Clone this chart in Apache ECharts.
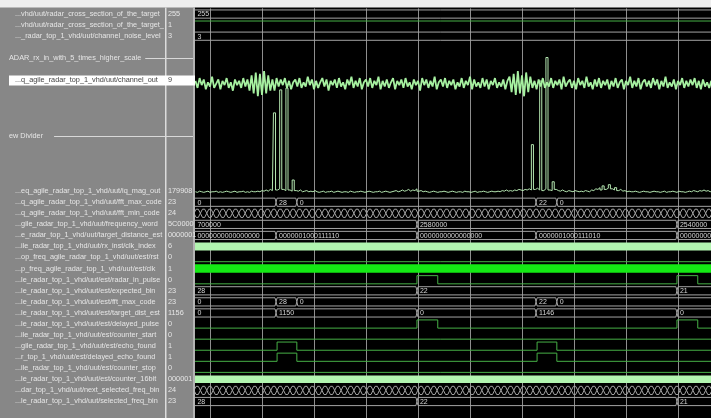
<!DOCTYPE html>
<html><head><meta charset="utf-8">
<script src="https://cdn.jsdelivr.net/npm/echarts@6/dist/echarts.min.js"></script>
<style>html,body{margin:0;padding:0;background:#000;}#c{width:711px;height:418px;}</style>
</head><body><div id="c"></div>
<script>
// ================= DATA =================
const signalNames = [
  "...vhd/uut/radar_cross_section_of_the_target",
  "...vhd/uut/radar_cross_section_of_the_target_",
  "..._radar_top_1_vhd/uut/channel_noise_level",
  "",
  "ADAR_rx_in_with_5_times_higher_scale",
  "",
  "...q_agile_radar_top_1_vhd/uut/channel_out",
  "", "", "", "",
  "ew Divider",
  "", "", "", "",
  "...eq_agile_radar_top_1_vhd/uut/iq_mag_out",
  "...q_agile_radar_top_1_vhd/uut/fft_max_code",
  "...q_agile_radar_top_1_vhd/uut/fft_min_code",
  "...gile_radar_top_1_vhd/uut/frequency_word",
  "...e_radar_top_1_vhd/uut/target_distance_est",
  "...ile_radar_top_1_vhd/uut/rx_inst/clk_index",
  "...op_freq_agile_radar_top_1_vhd/uut/est/rst",
  "...p_freq_agile_radar_top_1_vhd/uut/est/clk",
  "...le_radar_top_1_vhd/uut/est/radar_in_pulse",
  "...le_radar_top_1_vhd/uut/est/expected_bin",
  "...le_radar_top_1_vhd/uut/est/fft_max_code",
  "...le_radar_top_1_vhd/uut/est/target_dist_est",
  "...le_radar_top_1_vhd/uut/est/delayed_pulse",
  "...ile_radar_top_1_vhd/uut/est/counter_start",
  "...gile_radar_top_1_vhd/uut/est/echo_found",
  "...r_top_1_vhd/uut/est/delayed_echo_found",
  "...ile_radar_top_1_vhd/uut/est/counter_stop",
  "...le_radar_top_1_vhd/uut/est/counter_16bit",
  "...dar_top_1_vhd/uut/next_selected_freq_bin",
  "...le_radar_top_1_vhd/uut/selected_freq_bin",
  ""
];
const signalValues = [
  "255","1","3","","","","9","","","","","","","","","",
  "179908","23","24","5C0000","0000001","6","0","1","0","23","23","1156",
  "0","0","1","1","0","000001","24","23",""
];
const dividerRows = [4, 11];
const selectedRow = 6;

// time of the left edge of the waveform window and sampling step of the analog traces
const WIN_START = 0.72;
const SAMPLE_DT = 0.04;
const T_BEGIN = 0.2;
const T_END = 10.7;

// channel_out samples (signed)
const channelOut = [
  2,-3,4,-1,3,-4,1,-2,5,-3,
  0,3,-4,2,-1,4,-3,1,-5,3,
  -1,2,-3,4,-2,3,-5,6,-7,8,
  -9,7,-8,9,-7,6,-5,3,-5,4,
  -2,3,-1,4,-3,2,-4,1,3,-2,
  4,-3,1,-2,5,-1,3,-4,2,-3,
  1,4,-2,3,-5,2,-1,3,-3,4,
  -2,1,-4,3,-1,5,-3,2,-2,4,
  -4,1,3,-2,4,-3,2,-1,5,-4,
  2,-2,3,-3,1,4,-4,2,-1,3,
  -3,4,-2,1,-4,3,-1,2,-5,4,
  -1,3,-3,2,-2,5,-4,1,3,-2,
  4,-3,2,-1,3,-4,1,-2,4,-3,
  2,-1,5,-4,3,-2,1,-3,4,-2,
  3,-4,2,-1,4,-3,1,-2,3,-4,
  2,5,-6,7,-8,9,-7,6,-9,8,
  -6,5,-3,2,-4,3,-2,4,-3,1,
  -2,4,-3,2,-1,3,-4,5,-2,1,
  3,-3,2,-4,4,-1,2,-3,5,-2,
  1,-4,3,-2,4,-3,2,-1,3,-4,
  2,-2,4,-3,1,3,-4,2,-1,5,
  -3,2,-2,4,-4,1,3,-2,2,-3,
  4,-1,3,-4,2,-2,5,-3,1,-2,
  3,-4,2,-1,4,-3,2,-2,3,-1,
  4,-3,2,-4,3,-2,1,-3,2
];
// iq_mag_out samples (thousands)
const iqMagOut = [
  2,1,3,2,1,2,3,1,2,2,
  3,1,2,1,2,3,2,1,2,3,
  1,2,2,3,1,2,1,3,2,2,
  3,2,4,3,5,3,6,4,136,5,
  7,175,6,4,178,5,3,22,4,3,
  5,2,3,4,2,3,2,4,2,1,
  2,3,1,2,2,3,1,2,3,2,
  1,2,2,1,3,2,1,2,2,3,
  2,1,2,3,2,1,2,2,3,1,
  2,3,2,1,2,3,4,2,3,5,
  3,4,6,3,5,4,7,3,4,2,
  3,2,1,2,3,2,1,2,2,3,
  2,1,2,3,2,1,2,2,1,3,
  2,2,1,2,3,1,2,2,3,2,
  1,2,3,2,2,3,2,4,3,5,
  3,4,3,5,4,6,5,4,6,5,
  7,5,82,6,8,5,190,4,7,230,
  5,4,19,6,4,3,5,3,2,4,
  3,2,4,3,2,3,2,4,3,2,
  5,4,7,6,9,5,12,6,8,14,
  7,5,9,4,6,3,4,2,3,2,
  2,3,2,1,2,3,2,2,1,2,
  3,2,2,1,2,3,1,2,2,3,
  2,1,3,2,2,1,2,3,2,4,
  3,2,4,3,5,3,4,2,3
];

// bus signals: [change time, value]
const rcsTarget = [[T_BEGIN,"255"]];
const channelNoiseLevel = [[T_BEGIN,"3"]];
const fftMaxCode = [[T_BEGIN,"0"],[2.27,"28"],[2.67,"0"],[7.27,"22"],[7.67,"0"]];
const frequencyWord = [[T_BEGIN,"700000"],[4.98,"2580000"],[9.98,"2540000"]];
const targetDistanceEst = [[T_BEGIN,"0000000000000000"],[2.27,"0000001000111110"],[4.98,"0000000000000000"],[7.27,"0000001000111010"],[9.98,"0000000000000000"]];
const expectedBin = [[T_BEGIN,"28"],[4.98,"22"],[9.98,"21"]];
const estFftMaxCode = [[T_BEGIN,"0"],[2.27,"28"],[2.67,"0"],[7.27,"22"],[7.67,"0"]];
const targetDistEst = [[T_BEGIN,"0"],[2.27,"1150"],[4.98,"0"],[7.27,"1146"],[9.98,"0"]];
const selectedFreqBin = [[T_BEGIN,"28"],[4.98,"22"],[9.98,"21"]];
// fast-changing buses (one value per FFT bin period)
const FAST_BUS_PERIOD = 0.123;
const fastBusRows = [18, 34];

// single-bit signals: [change time, level]
const rcsTargetBit = [[T_BEGIN,1]];
const estRst = [[T_BEGIN,0]];
const radarInPulse = [[T_BEGIN,0],[4.98,1],[5.38,0],[9.98,1],[10.38,0]];
const delayedPulse = [[T_BEGIN,0],[4.98,1],[5.38,0],[9.98,1],[10.38,0]];
const counterStart = [[T_BEGIN,0]];
const echoFound = [[T_BEGIN,0],[2.29,1],[2.67,0],[7.29,1],[7.67,0]];
const delayedEchoFound = [[T_BEGIN,0],[2.29,1],[2.67,0],[7.29,1],[7.67,0]];
const counterStop = [[T_BEGIN,0]];

// ================= LAYOUT / STYLE =================
const W = 711, H = 418;
const GRID_LEFT = 158, GRID_TOP = 8.4;
const NROWS = signalNames.length;
const BAND = (H - GRID_TOP) / NROWS;
const X_UNIT_PX = 52;
const X_MAX = (W - GRID_LEFT) / X_UNIT_PX;
const HI = 0.36, LO = 0.38;
const CH_CENTER = 6.3, CH_UNITS_PER_SLOT = 7.9;
const IQ_BASE = 16.17, IQ_UNITS_PER_SLOT = 18.8;
const PANEL = '#878787', TXT = '#e6e6e6';
const BUS_COLOR = '#a4a4a4', BIT_COLOR = '#46b046';
const FONT = '"Liberation Sans", Arial, sans-serif';
const NAME_FS = 7.3;

const busDefs = [
  {slot:0, segs:rcsTarget}, {slot:2, segs:channelNoiseLevel},
  {slot:17, segs:fftMaxCode}, {slot:19, segs:frequencyWord},
  {slot:20, segs:targetDistanceEst}, {slot:25, segs:expectedBin},
  {slot:26, segs:estFftMaxCode}, {slot:27, segs:targetDistEst},
  {slot:35, segs:selectedFreqBin}
];
const busData = [], busText = [];
busDefs.forEach(b => b.segs.forEach((sg, i) => {
  const end = i + 1 < b.segs.length ? b.segs[i+1][0] : T_END;
  busData.push([sg[0], end, b.slot, 0.02]); busText.push(sg[1]);
}));
fastBusRows.forEach(slot => {
  for (let k = 0; T_BEGIN + k*FAST_BUS_PERIOD < T_END; k++) {
    const a = T_BEGIN + k*FAST_BUS_PERIOD;
    busData.push([a, a + FAST_BUS_PERIOD, slot, 0.04]); busText.push('');
  }
});

function renderBus(params, api) {
  const a = api.value(0), b = api.value(1), s = api.value(2), d = api.value(3);
  const P = (t, y) => api.coord([t, y]);
  const pts = [P(a,s), P(a+d,s-HI), P(b-d,s-HI), P(b,s), P(b-d,s+LO), P(a+d,s+LO)];
  const children = [{type:'polygon', shape:{points:pts}, style:{fill:'none', stroke:BUS_COLOR, lineWidth:1}}];
  const txt = busText[params.dataIndex];
  if (txt) {
    const p = P(Math.max(a, WIN_START), s);
    children.push({type:'text', x:p[0] + (a >= WIN_START ? 3 : 2), y:p[1] + 0.5,
      style:{text:txt, fill:'#d6d6d6', font:'7px ' + FONT, verticalAlign:'middle', align:'left'}});
  }
  return {type:'group', children};
}

function lineBase(data, color, width, extra) {
  return Object.assign({type:'line', yAxisIndex:2, data, symbol:'none', silent:true, animation:false,
    lineStyle:{color, width}}, extra || {});
}
function bitSeries(slot, trans) {
  const pts = trans.map(([t, l]) => [t, slot + (l ? -HI : LO)]);
  pts.push([T_END, pts[pts.length-1][1]]);
  return lineBase(pts, BIT_COLOR, 1, {step:'end'});
}
function barSeries(slot, color, width) {
  return lineBase([[T_BEGIN, slot], [T_END, slot]], color, width, {lineStyle:{color, width, cap:'butt'}});
}

const series = [
  lineBase(iqMagOut.map((v, i) => [WIN_START + i*SAMPLE_DT, IQ_BASE - v/IQ_UNITS_PER_SLOT]), '#b4e6b0', 1, {step:'middle'}),
  lineBase(channelOut.map((v, i) => [WIN_START + i*SAMPLE_DT, CH_CENTER - v/CH_UNITS_PER_SLOT]), '#a6f0a0', 1.8),
  {type:'custom', yAxisIndex:2, renderItem:renderBus, data:busData, silent:true, animation:false,
   encode:{x:[0,1], y:2}},
  bitSeries(1, rcsTargetBit), bitSeries(22, estRst), bitSeries(24, radarInPulse),
  bitSeries(28, delayedPulse), bitSeries(29, counterStart), bitSeries(30, echoFound),
  bitSeries(31, delayedEchoFound), bitSeries(32, counterStop),
  barSeries(21, '#b2f5b0', 8), barSeries(23, '#14ea14', 8.5), barSeries(33, '#b2f5b0', 7.5)
];

// divider line geometry (measured text width)
const mctx = document.createElement('canvas').getContext('2d');
mctx.font = NAME_FS + 'px ' + FONT;
const dividerGap = {4: 4, 11: 11};
const graphics = [
  {type:'rect', z:10, shape:{x:0, y:0, width:195, height:H}, style:{fill:PANEL}, silent:true},
  {type:'rect', z:10, shape:{x:0, y:0, width:W, height:7.5}, style:{fill:'#eeeeee'}, silent:true},
  {type:'rect', z:11, shape:{x:165, y:7.5, width:1.5, height:H}, style:{fill:'#dcdcdc'}, silent:true},
  {type:'rect', z:11, shape:{x:193, y:7.5, width:2, height:H}, style:{fill:'#b4b4b4'}, silent:true},
  {type:'rect', z:12, shape:{x:9, y:GRID_TOP + selectedRow*BAND + 0.6, width:186, height:BAND - 1}, style:{fill:'#ffffff'}, silent:true}
];
dividerRows.forEach(r => {
  const w = mctx.measureText(signalNames[r]).width;
  const y = Math.round(GRID_TOP + (r + 0.5)*BAND) + 0.5;
  graphics.push({type:'line', z:12, shape:{x1:9 + w + dividerGap[r], y1:y, x2:193, y2:y},
    style:{stroke:'#d8d8d8', lineWidth:1}, silent:true});
});

const chart = echarts.init(document.getElementById('c'), null, {renderer:'canvas'});
chart.setOption({
  backgroundColor:'#000',
  animation:false,
  grid:{left:GRID_LEFT, right:0, top:GRID_TOP, bottom:0},
  xAxis:{type:'value', min:0, max:X_MAX, interval:1,
    axisLine:{show:false}, axisTick:{show:false}, axisLabel:{show:false},
    splitLine:{show:true, showMaxLine:false, lineStyle:{color:'#8e8e8e', width:1}}},
  yAxis:[
    {type:'category', inverse:true, position:'left', z:20,
     data:signalNames.map((_, i) => String(i)),
     axisLine:{show:false}, axisTick:{show:false}, splitLine:{show:false},
     axisLabel:{interval:0, align:'left', margin:GRID_LEFT - 9, hideOverlap:false,
       formatter:(v, i) => {
         const t = signalNames[i];
         if (!t) return '';
         if (dividerRows.includes(i)) return '{d|' + t + '}';
         return (i === selectedRow ? '{s|' : '{n|') + t + '}';
       },
       rich:{
         n:{fontSize:NAME_FS, fontFamily:FONT, color:TXT, padding:[0,0,0,6]},
         s:{fontSize:NAME_FS, fontFamily:FONT, color:'#444', padding:[0,0,0,6]},
         d:{fontSize:NAME_FS, fontFamily:FONT, color:TXT}
       }}},
    {type:'category', inverse:true, position:'left', z:20,
     data:signalValues.map((_, i) => String(i)),
     axisLine:{show:false}, axisTick:{show:false}, splitLine:{show:false},
     axisLabel:{interval:0, align:'left', margin:GRID_LEFT - 168, hideOverlap:false,
       formatter:(v, i) => signalValues[i] ? ((i === selectedRow ? '{s|' : '{n|') + signalValues[i] + '}') : '',
       rich:{
         n:{fontSize:NAME_FS, fontFamily:FONT, color:TXT},
         s:{fontSize:NAME_FS, fontFamily:FONT, color:'#444'}
       }}},
    {type:'value', inverse:true, min:-0.5, max:NROWS - 0.5, show:false}
  ],
  graphic:{elements:graphics},
  series
});
</script></body></html>
